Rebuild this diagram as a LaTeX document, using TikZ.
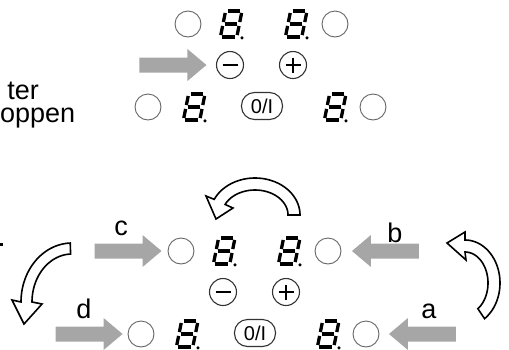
\documentclass[tikz,border=0pt]{standalone}
\usepackage{fontspec}
\setmainfont{Liberation Sans}
\begin{document}
\begin{tikzpicture}[x=1pt,y=-1pt,
  ring/.style={circle,draw=black!60,line width=0.9pt,minimum size=26pt,inner sep=0pt},
  signbtn/.style={circle,draw=black!80,line width=1.1pt,minimum size=27pt,inner sep=0pt},
  signline/.style={line width=2.2pt,black},
  onoff/.style={draw=black!80,line width=1.1pt,rounded corners=13pt,minimum width=41pt,minimum height=27pt,inner sep=0pt,font=\fontsize{20}{20}\selectfont},
  seg/.style={line width=3.3pt,shorten <=2pt,shorten >=2pt},
  blockfill/.style={fill=black!35,draw=none},
  curvearrow/.style={draw=black,line width=1.6pt,fill=white,line join=miter},
  lbl/.style={font=\fontsize{27}{27}\selectfont,inner sep=0pt},
  segdigit/.pic={
    \draw[seg] (-5.4,-13) -- (11.0,-13);
    \draw[seg] (11.0,-13) -- (8.4,0);
    \draw[seg] (8.4,0) -- (5.8,13);
    \draw[seg] (5.8,13) -- (-10.6,13);
    \draw[seg] (-10.6,13) -- (-8,0);
    \draw[seg] (-8,0) -- (-5.4,-13);
    \draw[seg] (-8,0) -- (8.4,0);
    \fill (11,13.8) circle (1.7pt);
  },
  blockarrow/.pic={
    \fill[blockfill] (0,0) -- (-19,-16) -- (-19,-7.5) -- (-67,-7.5) -- (-67,7.5) -- (-19,7.5) -- (-19,16) -- cycle;
  }
]
\useasboundingbox (0,0) rectangle (509,349);

% two control panels
\foreach \p/\dx/\dy in {t/0/0, b/-7/227} {
  \begin{scope}[shift={(\dx,\dy)}]
    \node[ring] (\p-L1) at (188,24) {};
    \pic at (231,24) {segdigit};
    \pic at (296,24) {segdigit};
    \node[ring] (\p-R1) at (335,24) {};
    \node[signbtn] (\p-M) at (230,65) {};
    \draw[signline] (\p-M.center) ++(-7.5,0) -- ++(15,0);
    \node[signbtn] (\p-P) at (293,65) {};
    \draw[signline] (\p-P.center) ++(-7.5,0) -- ++(15,0);
    \draw[signline] (\p-P.center) ++(0,-7.5) -- ++(0,15);
    \node[ring] (\p-L3) at (148,107) {};
    \pic at (194,107) {segdigit};
    \node[onoff] (\p-O) at (262,106) {0/I};
    \pic at (335,107) {segdigit};
    \node[ring] (\p-R3) at (373,107) {};
  \end{scope}
}

% gray block arrows
\coordinate (tipT) at ([xshift=-9.5pt]t-M.west);
\coordinate (tipC) at ([xshift=-6pt]b-L1.west);
\coordinate (tipD) at ([xshift=-5pt]b-L3.west);
\coordinate (tipB) at ([xshift=10.5pt]b-R1.east);
\coordinate (tipA) at ([xshift=9.5pt]b-R3.east);
\pic at (tipT) {blockarrow};
\pic at (tipC) {blockarrow};
\pic at (tipD) {blockarrow};
\pic[rotate=180] at (tipB) {blockarrow};
\pic[rotate=180] at (tipA) {blockarrow};

% labels
\node[lbl,anchor=base] (lc) at (121,235) {c};
\node[lbl,anchor=base] (ld) at (84,318) {d};
\node[lbl,anchor=base] (lb) at (395,242) {b};
\node[lbl,anchor=base] (la) at (429,318) {a};

% cut-off text at left
\node[lbl,anchor=base east] (txt1) at (39,99) {ter};
\node[lbl,anchor=base west] (txt2) at (0,122) {oppen};
\fill (0,243) rectangle (3,246);

% curved outline arrows
\draw[curvearrow]
  plot[domain=0:155,samples=50] ({255+45*cos(\x)},{215-37*sin(\x)})
  -- (206,196) -- (216,219) -- (233,208)
  -- plot[domain=0:155,samples=50] ({255+33*cos(\x-155)},{215+25*sin(\x-155)})
  -- cycle;
\draw[curvearrow]
  plot[domain=0:146,samples=50] ({465+35*cos(56-\x)},{283+43*sin(56-\x)})
  -- (465,232) -- (447,243) -- (466,260)
  -- plot[domain=0:146,samples=50] ({465+23*cos(\x-90)},{283+31*sin(\x-90)})
  -- cycle;
\draw[curvearrow]
  plot[domain=0:88,samples=50] ({72+51*cos(-92-\x)},{302+59*sin(-92-\x)})
  -- (12,300) -- (24,324) -- (42,304)
  -- plot[domain=0:88,samples=50] ({72+40*cos(\x-180)},{302+48*sin(\x-180)})
  -- cycle;
\end{tikzpicture}
\end{document}
